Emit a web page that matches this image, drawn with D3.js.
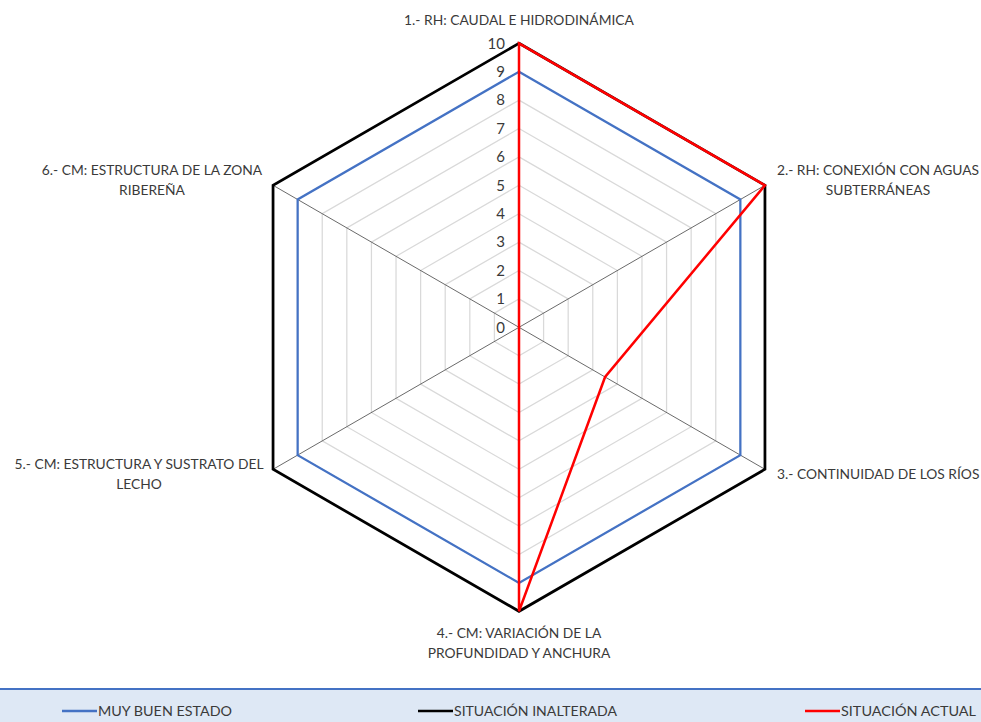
<!DOCTYPE html>
<html>
<head>
<meta charset="utf-8">
<script src="https://cdn.jsdelivr.net/npm/d3@7"></script>
<style>
  html, body { margin: 0; padding: 0; background: #fff; }
  svg text { font-family: Lato, "Open Sans", sans-serif; fill: #3a3a3a; }
</style>
</head>
<body>
<svg id="chart" width="981" height="722"></svg>
<script>
// Axes of the radar (one per indicator), each label split into lines
const axes = [
  ["1.- RH: CAUDAL E HIDRODINÁMICA"],
  ["2.- RH: CONEXIÓN CON AGUAS", "SUBTERRÁNEAS"],
  ["3.- CONTINUIDAD DE LOS RÍOS"],
  ["4.- CM: VARIACIÓN DE LA", "PROFUNDIDAD Y ANCHURA"],
  ["5.- CM: ESTRUCTURA Y SUSTRATO DEL", "LECHO"],
  ["6.- CM: ESTRUCTURA DE LA ZONA", "RIBEREÑA"]
];
const ticks = [0, 1, 2, 3, 4, 5, 6, 7, 8, 9, 10];

const seriesNames = ["MUY BUEN ESTADO", "SITUACIÓN INALTERADA", "SITUACIÓN ACTUAL"];
const muyBuenEstado = [9, 9, 9, 9, 9, 9];
const situacionInalterada = [10, 10, 10, 10, 10, 10];
const situacionActual = [10, 10, 3.5, 10, 0, 0];
const seriesColors = ["#4472c4", "#000000", "#ff0000"];
const seriesWidths = [2.25, 2.75, 2.5];

const svg = d3.select("#chart");
const cx = 519, cy = 327.3, R = 284;
const r = d3.scaleLinear().domain([0, 10]).range([0, R]);
const n = axes.length;
const angle = i => (i * 2 * Math.PI) / n; // clockwise from top

const pt = (i, v) => [cx + r(v) * Math.sin(angle(i)), cy - r(v) * Math.cos(angle(i))];
const line = d3.line();

// Gridline hexagons
const g = svg.append("g");
g.selectAll("path.grid")
  .data(ticks.filter(t => t > 0))
  .join("path")
  .attr("class", "grid")
  .attr("d", t => line(d3.range(n).map(i => pt(i, t))) + "Z")
  .attr("fill", "none")
  .attr("stroke", "#d9d9d9")
  .attr("stroke-width", 1.25);

// Spokes
g.selectAll("line.spoke")
  .data(d3.range(n))
  .join("line")
  .attr("class", "spoke")
  .attr("x1", cx).attr("y1", cy)
  .attr("x2", i => pt(i, 10)[0]).attr("y2", i => pt(i, 10)[1])
  .attr("stroke", "#595959")
  .attr("stroke-width", 0.9);

// Tick labels along the first axis
g.selectAll("text.tick")
  .data(ticks)
  .join("text")
  .attr("class", "tick")
  .attr("x", cx - 14)
  .attr("y", t => cy - r(t))
  .attr("dy", "0.35em")
  .attr("text-anchor", "end")
  .attr("font-size", 15)
  .text(t => t);

// Series polygons
const series = [muyBuenEstado, situacionInalterada, situacionActual];
svg.append("g").selectAll("path.series")
  .data(series)
  .join("path")
  .attr("class", "series")
  .attr("d", s => line(s.map((v, i) => pt(i, v))) + "Z")
  .attr("fill", "none")
  .attr("stroke", (s, k) => seriesColors[k])
  .attr("stroke-width", (s, k) => seriesWidths[k])
  .attr("stroke-linejoin", "miter");

// Axis labels
const labelPos = [
  { x: 519, y: 20, anchor: "middle" },
  { x: 878, y: 170, anchor: "middle" },
  { x: 777, y: 474, anchor: "start" },
  { x: 519, y: 633, anchor: "middle" },
  { x: 139, y: 464, anchor: "middle" },
  { x: 152, y: 170, anchor: "middle" }
];
const lg = svg.append("g");
axes.forEach((lines, i) => {
  const p = labelPos[i];
  const t = lg.append("text")
    .attr("x", p.x).attr("y", p.y)
    .attr("text-anchor", p.anchor)
    .attr("dy", "0.35em")
    .attr("font-size", 13.8);
  lines.forEach((s, j) => {
    t.append("tspan").attr("x", p.x).attr("dy", j === 0 ? "0.35em" : 20.5).text(s);
  });
});

// Legend band
const legend = svg.append("g");
legend.append("rect")
  .attr("x", 0).attr("y", 689).attr("width", 981).attr("height", 33)
  .attr("fill", "#dee8f5");
legend.append("line")
  .attr("x1", 0).attr("x2", 981).attr("y1", 689).attr("y2", 689)
  .attr("stroke", "#4472c4").attr("stroke-width", 2);
const legendX = [62, 418, 805];
seriesNames.forEach((name, k) => {
  const x0 = legendX[k];
  legend.append("line")
    .attr("x1", x0).attr("x2", x0 + 35)
    .attr("y1", 711).attr("y2", 711)
    .attr("stroke", seriesColors[k]).attr("stroke-width", 2.5);
  legend.append("text")
    .attr("x", x0 + 36).attr("y", 711).attr("dy", "0.35em")
    .attr("font-size", 13.3)
    .attr("textLength", [134, 163, 135][k])
    .attr("lengthAdjust", "spacingAndGlyphs")
    .text(name);
});
</script>
</body>
</html>
